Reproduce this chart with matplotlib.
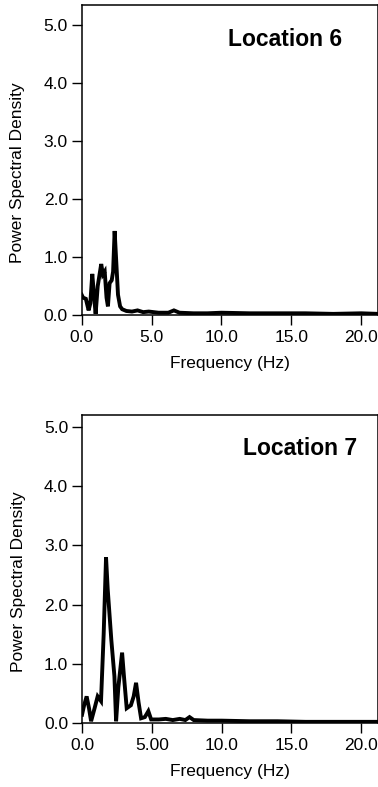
import matplotlib.pyplot as plt

plt.rcParams["font.family"] = ["Liberation Sans", "DejaVu Sans"]

# ---------------------------------------------------------------------------
# Data
# ---------------------------------------------------------------------------
freq6 = [0.0, 0.1, 0.3, 0.5, 0.62, 0.76, 0.88, 1.0, 1.15, 1.4, 1.52, 1.65,
         1.78, 1.88, 2.0, 2.15, 2.25, 2.36, 2.48, 2.6, 2.75, 2.9, 3.2, 3.6,
         4.0, 4.4, 4.8, 5.5, 6.2, 6.6, 7.0, 8.0, 9.0, 10.0, 12.0, 14.0,
         16.0, 18.0, 20.0, 21.2]
psd6 = [0.35, 0.3, 0.28, 0.08, 0.2, 0.71, 0.35, 0.02, 0.5, 0.88, 0.7, 0.75,
        0.3, 0.15, 0.55, 0.6, 0.75, 1.45, 0.9, 0.35, 0.15, 0.1, 0.07, 0.06,
        0.08, 0.05, 0.06, 0.04, 0.04, 0.08, 0.04, 0.03, 0.03, 0.04, 0.03,
        0.03, 0.03, 0.02, 0.03, 0.02]

freq7 = [0.0, 0.15, 0.33, 0.5, 0.65, 0.9, 1.12, 1.36, 1.55, 1.72, 1.84,
         2.1, 2.32, 2.44, 2.6, 2.87, 3.0, 3.2, 3.5, 3.7, 3.87, 4.05, 4.23,
         4.5, 4.75, 4.95, 5.5, 6.0, 6.5, 7.0, 7.4, 7.7, 8.0, 9.0, 10.0,
         12.0, 14.0, 16.0, 18.0, 20.0, 21.2]
psd7 = [0.14, 0.3, 0.45, 0.25, 0.03, 0.25, 0.45, 0.37, 1.5, 2.8, 2.26,
        1.4, 0.79, 0.03, 0.6, 1.19, 0.8, 0.25, 0.3, 0.45, 0.68, 0.35, 0.08,
        0.1, 0.2, 0.06, 0.06, 0.07, 0.05, 0.07, 0.05, 0.1, 0.05, 0.04, 0.04,
        0.03, 0.03, 0.02, 0.02, 0.02, 0.02]

x_ticks = [0.0, 5.0, 10.0, 15.0, 20.0]
x_labels6 = ["0.0", "5.0", "10.0", "15.0", "20.0"]
x_labels7 = ["0.0", "5.00", "10.0", "15.0", "20.0"]
y_ticks = [0.0, 1.0, 2.0, 3.0, 4.0, 5.0]
y_labels = ["0.0", "1.0", "2.0", "3.0", "4.0", "5.0"]

PANELS = [
    # (rect, freq, psd, xlabels, ymax, title, title_x, title_y)
    ([0.216, 0.5997, 0.784, 0.394], freq6, psd6, x_labels6, 5.35,
     "Location 6", 0.88, 0.89),
    ([0.217, 0.0813, 0.783, 0.391], freq7, psd7, x_labels7, 5.2,
     "Location 7", 0.93, 0.893),
]

fig = plt.figure(figsize=(3.78, 7.87), dpi=100)

for rect, f, p, xlabels, ymax, title, tx, ty in PANELS:
    ax = fig.add_axes(rect)
    ax.plot(f, p, color="black", linewidth=2.8, solid_joinstyle="miter")
    ax.set_xlim(0, 21.2)
    ax.set_ylim(0, ymax)
    ax.set_xticks(x_ticks)
    ax.set_xticklabels(xlabels)
    ax.set_yticks(y_ticks)
    ax.set_yticklabels(y_labels)
    ax.tick_params(direction="out", length=7, width=1.0, labelsize=12.5,
                   colors="black", pad=3)
    ax.tick_params(axis="x", pad=4)
    for s in ax.spines.values():
        s.set_linewidth(1.1)
    ax.set_xlabel("Frequency (Hz)", fontsize=12.5, labelpad=8)
    ax.set_ylabel("Power Spectral Density", fontsize=12.5)
    ax.yaxis.set_label_coords(-0.19, 0.46)
    ax.text(tx, ty, title, transform=ax.transAxes, ha="right", va="center",
            fontsize=16.5, fontweight="bold")

fig.savefig("out.png", dpi=100)
